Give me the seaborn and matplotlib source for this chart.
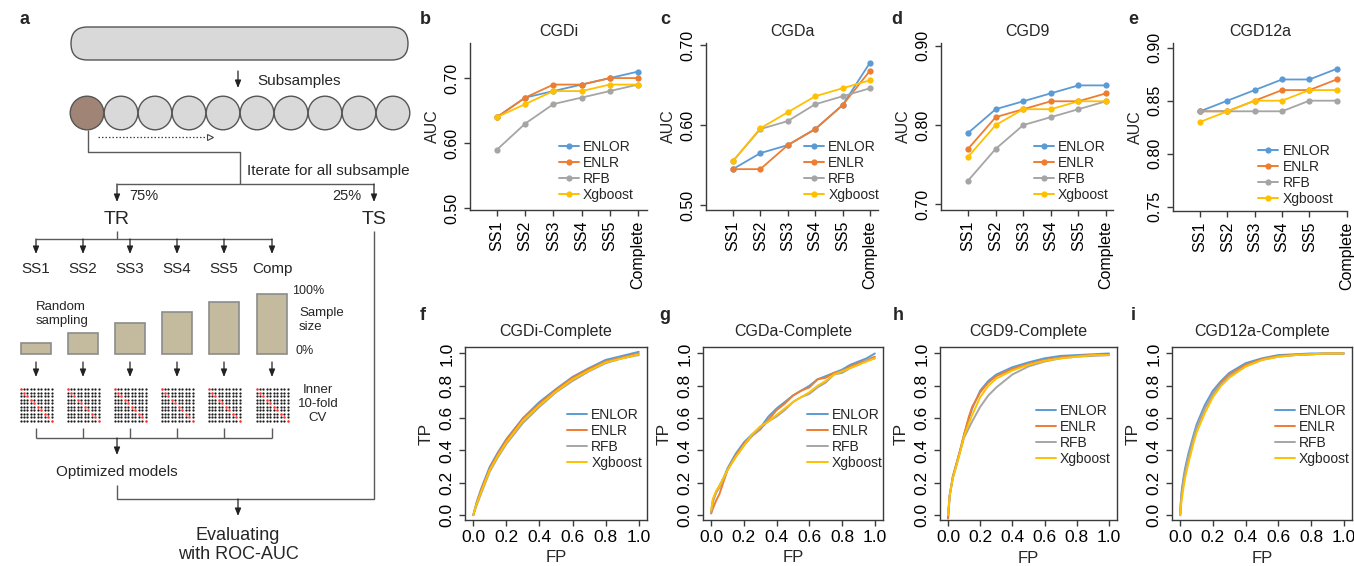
"""
Figura de desempenho dos modelos (AUC por subamostra e curvas ROC).

Painel a: esquema do fluxo de subamostragem e validacao.
Paineis b-e: AUC por tamanho de subamostra.
Paineis f-i: curvas ROC com a base completa.
"""

import matplotlib

matplotlib.use("Agg")
import matplotlib.pyplot as plt
import numpy as np
import pandas as pd
import seaborn as sns
from matplotlib.lines import Line2D
from matplotlib.patches import Circle, FancyBboxPatch

# ---------------------------------------------------------------- dados
MODELOS = ["ENLOR", "ENLR", "RFB", "Xgboost"]
CORES = ["#5b9bd5", "#ed7d31", "#a5a5a5", "#ffc000"]
SUBAMOSTRAS = ["SS1", "SS2", "SS3", "SS4", "SS5", "Complete"]
ETAPAS_TR = ["SS1", "SS2", "SS3", "SS4", "SS5", "Comp"]
FRACAO_AMOSTRA = [0.18, 0.35, 0.52, 0.70, 0.87, 1.00]
N_SUBAMOSTRAS = 10
N_FOLDS = 10

AUC_CGDI_ENLOR = [0.64, 0.67, 0.68, 0.69, 0.70, 0.71]
AUC_CGDI_ENLR = [0.64, 0.67, 0.69, 0.69, 0.70, 0.70]
AUC_CGDI_RFB = [0.59, 0.63, 0.66, 0.67, 0.68, 0.69]
AUC_CGDI_XGB = [0.64, 0.66, 0.68, 0.68, 0.69, 0.69]

AUC_CGDA_ENLOR = [0.545, 0.565, 0.575, 0.595, 0.625, 0.678]
AUC_CGDA_ENLR = [0.545, 0.545, 0.575, 0.595, 0.625, 0.668]
AUC_CGDA_RFB = [0.555, 0.595, 0.605, 0.626, 0.636, 0.646]
AUC_CGDA_XGB = [0.555, 0.596, 0.616, 0.636, 0.646, 0.656]

AUC_CGD9_ENLOR = [0.79, 0.82, 0.83, 0.84, 0.85, 0.85]
AUC_CGD9_ENLR = [0.77, 0.81, 0.82, 0.83, 0.83, 0.84]
AUC_CGD9_RFB = [0.73, 0.77, 0.80, 0.81, 0.82, 0.83]
AUC_CGD9_XGB = [0.76, 0.80, 0.82, 0.82, 0.83, 0.83]

AUC_CGD12A_ENLOR = [0.84, 0.85, 0.86, 0.87, 0.87, 0.88]
AUC_CGD12A_ENLR = [0.84, 0.84, 0.85, 0.86, 0.86, 0.87]
AUC_CGD12A_RFB = [0.84, 0.84, 0.84, 0.84, 0.85, 0.85]
AUC_CGD12A_XGB = [0.83, 0.84, 0.85, 0.85, 0.86, 0.86]

FP_CGDI = [0, 0.02, 0.05, 0.1, 0.15, 0.2, 0.3, 0.4, 0.5, 0.6, 0.7, 0.8, 0.9, 1.0]
TP_CGDI_ENLOR = [0, 0.08, 0.17, 0.30, 0.39, 0.47, 0.60, 0.70, 0.78, 0.855, 0.91, 0.96, 0.985, 1.01]
TP_CGDI_ENLR = [0, 0.07, 0.16, 0.29, 0.38, 0.465, 0.595, 0.69, 0.775, 0.85, 0.905, 0.95, 0.975, 1.0]
TP_CGDI_RFB = [0, 0.06, 0.14, 0.27, 0.36, 0.44, 0.57, 0.67, 0.76, 0.83, 0.89, 0.94, 0.97, 0.99]
TP_CGDI_XGB = [0, 0.07, 0.15, 0.28, 0.37, 0.45, 0.585, 0.68, 0.765, 0.84, 0.895, 0.945, 0.97, 0.995]

FP_CGDA = [0, 0.01, 0.03, 0.05, 0.08, 0.1, 0.15, 0.2, 0.25, 0.3, 0.35, 0.4, 0.45, 0.5,
           0.55, 0.6, 0.65, 0.7, 0.75, 0.8, 0.85, 0.9, 0.95, 1.0]
TP_CGDA_ENLOR = [0.02, 0.09, 0.14, 0.18, 0.24, 0.29, 0.38, 0.45, 0.50, 0.54, 0.61, 0.66, 0.70, 0.74,
                 0.77, 0.80, 0.84, 0.86, 0.88, 0.90, 0.93, 0.95, 0.97, 1.0]
TP_CGDA_ENLR = [0.01, 0.04, 0.09, 0.13, 0.22, 0.28, 0.37, 0.44, 0.49, 0.53, 0.59, 0.65, 0.69, 0.74,
                0.77, 0.79, 0.84, 0.85, 0.88, 0.89, 0.92, 0.94, 0.96, 0.98]
TP_CGDA_RFB = [0.02, 0.08, 0.14, 0.17, 0.23, 0.28, 0.36, 0.43, 0.49, 0.54, 0.58, 0.61, 0.65, 0.70,
               0.73, 0.75, 0.79, 0.82, 0.87, 0.88, 0.91, 0.93, 0.96, 0.97]
TP_CGDA_XGB = [0.03, 0.10, 0.15, 0.18, 0.24, 0.28, 0.36, 0.43, 0.50, 0.55, 0.58, 0.62, 0.66, 0.70,
               0.73, 0.76, 0.80, 0.83, 0.87, 0.89, 0.91, 0.93, 0.95, 0.97]

FP_CGD9 = [0, 0.01, 0.03, 0.05, 0.08, 0.1, 0.13, 0.15, 0.2, 0.25, 0.3, 0.4, 0.5, 0.6, 0.7, 0.8, 0.9, 1.0]
TP_CGD9_ENLOR = [-0.02, 0.12, 0.24, 0.31, 0.42, 0.50, 0.60, 0.66, 0.77, 0.83, 0.87, 0.915, 0.945, 0.97,
                 0.985, 0.99, 0.995, 1.0]
TP_CGD9_ENLR = [-0.02, 0.12, 0.24, 0.31, 0.42, 0.50, 0.61, 0.67, 0.76, 0.82, 0.86, 0.905, 0.935, 0.96,
                0.975, 0.985, 0.99, 0.99]
TP_CGD9_RFB = [0, 0.12, 0.23, 0.30, 0.41, 0.48, 0.54, 0.58, 0.67, 0.74, 0.79, 0.87, 0.92, 0.95,
               0.97, 0.98, 0.985, 0.99]
TP_CGD9_XGB = [0, 0.12, 0.23, 0.30, 0.41, 0.49, 0.57, 0.62, 0.73, 0.80, 0.845, 0.895, 0.93, 0.955,
               0.97, 0.98, 0.99, 0.99]

FP_CGD12A = [0, 0.005, 0.01, 0.02, 0.03, 0.05, 0.08, 0.1, 0.15, 0.2, 0.25, 0.3, 0.4, 0.5, 0.6,
             0.7, 0.8, 0.9, 1.0]
TP_CGD12A_ENLOR = [0.0, 0.10, 0.16, 0.23, 0.29, 0.38, 0.49, 0.56, 0.68, 0.77, 0.83, 0.88, 0.94, 0.97,
                   0.99, 0.995, 1.0, 1.0, 1.0]
TP_CGD12A_ENLR = [0.0, 0.08, 0.13, 0.20, 0.26, 0.35, 0.47, 0.54, 0.66, 0.75, 0.82, 0.87, 0.93, 0.965,
                  0.985, 0.99, 0.995, 1.0, 1.0]
TP_CGD12A_RFB = [0.0, 0.09, 0.14, 0.21, 0.27, 0.36, 0.47, 0.54, 0.66, 0.75, 0.81, 0.86, 0.92, 0.96,
                 0.98, 0.99, 0.995, 1.0, 1.0]
TP_CGD12A_XGB = [0.0, 0.06, 0.10, 0.17, 0.23, 0.32, 0.44, 0.51, 0.63, 0.73, 0.80, 0.85, 0.92, 0.96,
                 0.98, 0.99, 0.995, 1.0, 1.0]

# ---------------------------------------------------------------- estilo
sns.set_style("ticks")
plt.rcParams["font.family"] = ["Liberation Sans", "DejaVu Sans"]
COR_EIXO = "#3a3a3a"
COR_LINHA = "#5a5a5a"

W, H = 1354, 566
fig = plt.figure(figsize=(W / 100, H / 100), dpi=100)


def caixa(esq, topo, dir_, base):
    return [esq / W, 1 - base / H, (dir_ - esq) / W, (base - topo) / H]


def rotulo_painel(x, y, letra):
    fig.text(x / W, 1 - y / H, letra, fontsize=13, fontweight="bold", ha="center", va="center")


def estilo_eixos(ax, caixa_completa=False):
    for lado, spine in ax.spines.items():
        spine.set_color(COR_EIXO)
        spine.set_linewidth(1.0)
        if not caixa_completa and lado in ("top", "right"):
            spine.set_visible(False)
    ax.tick_params(colors=COR_EIXO, length=4, width=1.0, labelcolor="black")


def legenda(ax, xy, com_marcador, fonte):
    alcas = [
        Line2D([], [], color=c, lw=1.4, marker="o" if com_marcador else None, ms=4.5, mew=0)
        for c in CORES
    ]
    ax.legend(alcas, MODELOS, loc="upper left", bbox_to_anchor=xy, frameon=False,
              fontsize=fonte, handlelength=1.45, handletextpad=0.3, labelspacing=0.15,
              borderpad=0, borderaxespad=0)


def painel_auc(ax, titulo, series, ylim, yticks, xlim, pos_complete, leg_xy):
    pos = np.arange(1, len(SUBAMOSTRAS) + 1)
    df = pd.concat([
        pd.DataFrame({"pos": pos, "auc": vals, "modelo": m})
        for m, vals in zip(MODELOS, series)
    ])
    sns.lineplot(data=df, x="pos", y="auc", hue="modelo", hue_order=MODELOS, palette=CORES,
                 marker="o", markersize=4.5, markeredgewidth=0, linewidth=1.3,
                 legend=False, ax=ax)
    ax.set_xlim(*xlim)
    ax.set_ylim(*ylim)
    xt = list(pos[:-1]) + [pos_complete]
    ax.set_xticks(xt)
    ax.set_xticklabels(SUBAMOSTRAS, rotation=90, fontsize=11.5)
    ax.set_yticks(yticks)
    ax.set_yticklabels([f"{v:.2f}" for v in yticks], rotation=90, va="center", fontsize=11.5)
    ax.set_xlabel("")
    ax.set_ylabel("AUC", fontsize=11.5, labelpad=3)
    ax.set_title(titulo, fontsize=11.5, pad=5)
    estilo_eixos(ax)
    legenda(ax, leg_xy, True, 10)


def painel_roc(ax, titulo, fp, curvas, leg_xy, pad_fp):
    df = pd.concat([
        pd.DataFrame({"FP": fp, "TP": tp, "modelo": m})
        for m, tp in zip(MODELOS, curvas)
    ])
    sns.lineplot(data=df, x="FP", y="TP", hue="modelo", hue_order=MODELOS, palette=CORES,
                 sort=False, estimator=None, linewidth=1.4, legend=False, ax=ax)
    ax.set_xlim(-0.05, 1.05)
    ax.set_ylim(-0.03, 1.04)
    ticks = np.round(np.arange(0, 1.01, 0.2), 1)
    ax.set_xticks(ticks)
    ax.set_xticklabels([f"{v:.1f}" for v in ticks], fontsize=12.5)
    ax.set_yticks(ticks)
    ax.set_yticklabels([f"{v:.1f}" for v in ticks], rotation=90, va="center", fontsize=12.5)
    ax.set_xlabel("FP", fontsize=12, labelpad=pad_fp)
    ax.set_ylabel("TP", fontsize=12.5, labelpad=4)
    ax.set_title(titulo, fontsize=11.5, pad=8)
    estilo_eixos(ax, caixa_completa=True)
    legenda(ax, leg_xy, False, 10)


# ---------------------------------------------------------------- painel a
ax_a = fig.add_axes([0, 0, 420 / W, 1])
ax_a.set_xlim(0, 420)
ax_a.set_ylim(H, 0)
ax_a.axis("off")


def seta(x, y0, y1):
    ax_a.annotate("", xy=(x, y1), xytext=(x, y0),
                  arrowprops=dict(arrowstyle="-|>,head_length=0.45,head_width=0.18",
                                  color="#222222", lw=0.9, shrinkA=0, shrinkB=0))


def linha(xs, ys):
    ax_a.plot(xs, ys, color=COR_LINHA, lw=1.0, solid_capstyle="butt")


ax_a.add_patch(FancyBboxPatch((71, 27), 337, 33, boxstyle="round,pad=0,rounding_size=16.5",
                              fc="#d9d9d9", ec="#555555", lw=1.0))
seta(238, 71, 88)
ax_a.text(257, 81, "Subsamples", fontsize=11, va="center")

for k in range(N_SUBAMOSTRAS):
    ax_a.add_patch(Circle((87 + 34 * k, 113), 16.8, fc="#a08576" if k == 0 else "#d9d9d9",
                          ec="#555555", lw=1.0))
ax_a.plot([98, 209], [137, 137], color="#444444", lw=0.9, ls=(0, (1.2, 1.6)))
ax_a.plot(210, 137, marker=">", ms=4, mfc="white", mec="#444444", mew=0.8)

linha([88, 88, 240, 240], [130, 152, 152, 184])
ax_a.text(247, 171, "Iterate for all subsample", fontsize=11, va="center")
linha([117, 374], [184, 184])
seta(117, 184, 202)
seta(374, 184, 202)
ax_a.text(129, 196, "75%", fontsize=10.5, va="center")
ax_a.text(361, 196, "25%", fontsize=10.5, va="center", ha="right")
ax_a.text(117, 220, "TR", fontsize=14, ha="center", va="center")
ax_a.text(374, 220, "TS", fontsize=14, ha="center", va="center")

xs_tr = [36, 83, 130, 177, 224, 272]
linha([117, 117], [231, 239])
linha([xs_tr[0], xs_tr[-1]], [239, 239])
for x, nome in zip(xs_tr, ETAPAS_TR):
    seta(x, 239, 254)
    ax_a.text(x, 269, nome, fontsize=11, ha="center", va="center")

linha([374, 374, 117, 117], [231, 499, 499, 485])
seta(238, 499, 516)

ax_a.bar(xs_tr, [-f * 60 for f in FRACAO_AMOSTRA], bottom=354, width=30,
         color="#c4bb9e", edgecolor="#8c8c8c", lw=1.2)
ax_a.text(292, 291, "100%", fontsize=9, va="center")
ax_a.text(299, 320, "Sample\nsize", fontsize=9.5, va="center", linespacing=1.25)
ax_a.text(296, 351, "0%", fontsize=9, va="center")
ax_a.text(36, 314, "Random\nsampling", fontsize=9.5, va="center", linespacing=1.25)

grade = np.arange(N_FOLDS)
for x in xs_tr:
    seta(x, 362, 377)
    gx, gy = np.meshgrid(x - 15.5 + grade * 3.45, 389 + grade * 3.5)
    diag = np.eye(N_FOLDS, dtype=bool)
    ax_a.scatter(gx[~diag], gy[~diag], s=2.6, c="#1a1a1a", marker="o", lw=0)
    ax_a.scatter(gx[diag], gy[diag], s=3.4, c="#ff2b2b", marker="o", lw=0)
    linha([x, x], [428, 438])
ax_a.text(318, 404, "Inner\n10-fold\nCV", fontsize=9.5, ha="center", va="center", linespacing=1.2)
linha([xs_tr[0], xs_tr[-1]], [438, 438])
seta(117, 438, 455)
ax_a.text(117, 472, "Optimized models", fontsize=11, ha="center", va="center")
ax_a.text(238, 545, "Evaluating\nwith ROC-AUC", fontsize=13, ha="center", va="center",
          linespacing=1.15)
rotulo_painel(25, 20, "a")

# ---------------------------------------------------------------- paineis b-e
ax_b = fig.add_axes(caixa(470, 43, 647, 210))
painel_auc(ax_b, "CGDi", [AUC_CGDI_ENLOR, AUC_CGDI_ENLR, AUC_CGDI_RFB, AUC_CGDI_XGB],
           (0.497, 0.754), [0.50, 0.60, 0.70], (0.04, 6.32), 6, (0.50, 0.42))
ax_c = fig.add_axes(caixa(706, 43, 878, 210))
painel_auc(ax_c, "CGDa", [AUC_CGDA_ENLOR, AUC_CGDA_ENLR, AUC_CGDA_RFB, AUC_CGDA_XGB],
           (0.494, 0.7025), [0.50, 0.60, 0.70], (0.02, 6.29), 6, (0.57, 0.42))
ax_d = fig.add_axes(caixa(941, 43, 1113, 210))
painel_auc(ax_d, "CGD9", [AUC_CGD9_ENLOR, AUC_CGD9_ENLR, AUC_CGD9_RFB, AUC_CGD9_XGB],
           (0.693, 0.9034), [0.70, 0.80, 0.90], (0.02, 6.25), 6, (0.54, 0.42))
ax_e = fig.add_axes(caixa(1173, 43, 1347, 211))
painel_auc(ax_e, "CGD12a", [AUC_CGD12A_ENLOR, AUC_CGD12A_ENLR, AUC_CGD12A_RFB, AUC_CGD12A_XGB],
           (0.746, 0.9044), [0.75, 0.80, 0.85, 0.90], (0.01, 6.38), 6.38, (0.49, 0.40))

rotulo_painel(425, 20, "b")
rotulo_painel(665, 20, "c")
rotulo_painel(897, 20, "d")
rotulo_painel(1133, 20, "e")

# ---------------------------------------------------------------- paineis f-i
ax_f = fig.add_axes(caixa(465, 347, 647, 520))
painel_roc(ax_f, "CGDi-Complete", FP_CGDI,
           [TP_CGDI_ENLOR, TP_CGDI_ENLR, TP_CGDI_RFB, TP_CGDI_XGB], (0.56, 0.65), 3)
ax_g = fig.add_axes(caixa(703, 347, 883, 520))
painel_roc(ax_g, "CGDa-Complete", FP_CGDA,
           [TP_CGDA_ENLOR, TP_CGDA_ENLR, TP_CGDA_RFB, TP_CGDA_XGB], (0.58, 0.65), 3)
ax_h = fig.add_axes(caixa(940, 347, 1117, 520))
painel_roc(ax_h, "CGD9-Complete", FP_CGD9,
           [TP_CGD9_ENLOR, TP_CGD9_ENLR, TP_CGD9_RFB, TP_CGD9_XGB], (0.54, 0.67), 4)
ax_i = fig.add_axes(caixa(1172, 347, 1352, 520))
painel_roc(ax_i, "CGD12a-Complete", FP_CGD12A,
           [TP_CGD12A_ENLOR, TP_CGD12A_ENLR, TP_CGD12A_RFB, TP_CGD12A_XGB], (0.57, 0.67), 4)

rotulo_painel(423, 315, "f")
rotulo_painel(665, 315, "g")
rotulo_painel(898, 315, "h")
rotulo_painel(1133, 315, "i")

fig.savefig("out.png", dpi=100)
plt.close(fig)
